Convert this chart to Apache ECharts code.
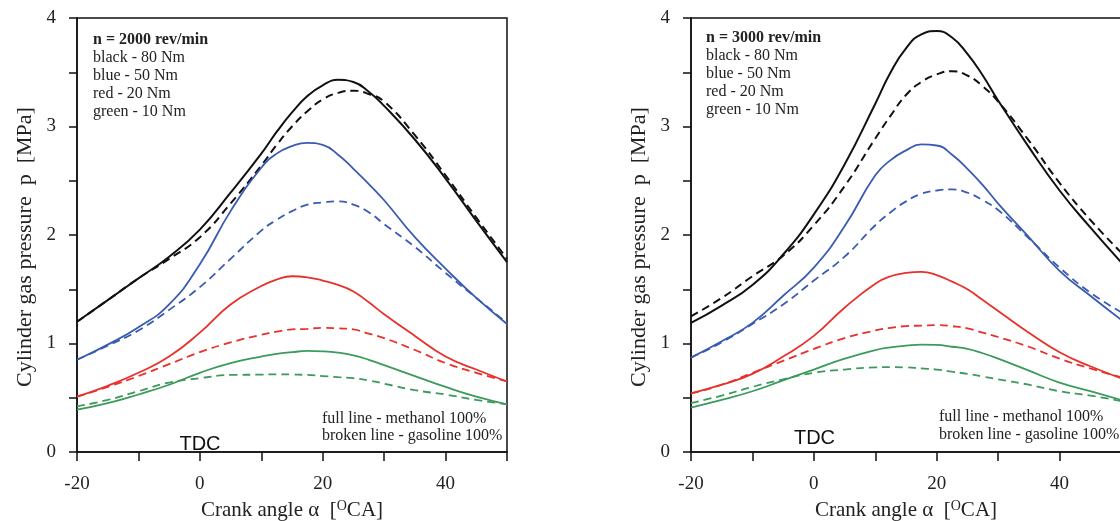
<!DOCTYPE html>
<html>
<head>
<meta charset="utf-8">
<script src="https://cdn.jsdelivr.net/npm/echarts@6/dist/echarts.min.js"></script>
<style>
html,body{margin:0;padding:0;background:#fff;}
#chart{width:1120px;height:521px;}
</style>
</head>
<body>
<div id="chart"></div>
<script>
// Crank angle samples [deg CA]
const angles = [-20,-15,-10,-5,0,5,10,12.5,15,17.5,20,22.5,25,27.5,30,35,40,45,50];

// n = 2000 rev/min  (M = methanol 100%, full line; G = gasoline 100%, broken line)
const black80_M_2000 = [1.20,1.40,1.60,1.80,2.05,2.39,2.75,2.95,3.13,3.28,3.38,3.43,3.41,3.32,3.19,2.88,2.52,2.13,1.75];
const black80_G_2000 = [1.20,1.40,1.60,1.78,1.98,2.29,2.64,2.83,3.00,3.14,3.25,3.31,3.33,3.30,3.23,2.92,2.55,2.16,1.78];
const blue50_M_2000  = [0.85,0.99,1.15,1.36,1.73,2.22,2.62,2.75,2.82,2.85,2.83,2.74,2.61,2.47,2.32,1.98,1.69,1.42,1.18];
const blue50_G_2000  = [0.85,0.98,1.12,1.31,1.52,1.78,2.04,2.14,2.22,2.28,2.30,2.31,2.28,2.21,2.10,1.89,1.65,1.42,1.19];
const red20_M_2000   = [0.51,0.61,0.73,0.88,1.10,1.36,1.53,1.59,1.62,1.61,1.58,1.54,1.48,1.38,1.27,1.07,0.88,0.76,0.65];
const red20_G_2000   = [0.51,0.60,0.70,0.81,0.92,1.01,1.08,1.11,1.13,1.135,1.145,1.14,1.13,1.09,1.05,0.94,0.82,0.73,0.65];
const green10_M_2000 = [0.39,0.45,0.53,0.62,0.73,0.82,0.88,0.905,0.92,0.932,0.928,0.915,0.89,0.85,0.80,0.70,0.60,0.51,0.44];
const green10_G_2000 = [0.42,0.48,0.56,0.64,0.68,0.71,0.713,0.716,0.714,0.71,0.70,0.69,0.68,0.66,0.63,0.57,0.53,0.48,0.44];

// n = 3000 rev/min
const black80_M_3000 = [1.19,1.35,1.54,1.82,2.19,2.65,3.21,3.50,3.72,3.85,3.88,3.82,3.67,3.47,3.24,2.81,2.41,2.07,1.75];
const black80_G_3000 = [1.25,1.42,1.62,1.81,2.09,2.45,2.89,3.10,3.29,3.41,3.48,3.51,3.47,3.37,3.23,2.87,2.48,2.14,1.84];
const blue50_M_3000  = [0.87,1.02,1.19,1.44,1.70,2.08,2.55,2.69,2.78,2.835,2.825,2.74,2.61,2.46,2.29,1.98,1.67,1.44,1.22];
const blue50_G_3000  = [0.87,1.01,1.18,1.36,1.58,1.80,2.09,2.21,2.31,2.38,2.41,2.42,2.39,2.32,2.23,1.97,1.70,1.47,1.29];
const red20_M_3000   = [0.54,0.62,0.72,0.88,1.07,1.33,1.55,1.62,1.65,1.66,1.63,1.57,1.50,1.40,1.30,1.10,0.92,0.79,0.68];
const red20_G_3000   = [0.54,0.62,0.73,0.84,0.95,1.05,1.12,1.145,1.16,1.165,1.17,1.16,1.14,1.10,1.06,0.97,0.86,0.77,0.69];
const green10_M_3000 = [0.41,0.48,0.56,0.66,0.76,0.86,0.94,0.965,0.98,0.99,0.988,0.97,0.95,0.91,0.86,0.75,0.64,0.56,0.48];
const green10_G_3000 = [0.45,0.52,0.60,0.67,0.73,0.76,0.78,0.782,0.78,0.77,0.76,0.74,0.72,0.695,0.67,0.62,0.56,0.52,0.47];

const xTickLabels = [-20, 0, 20, 40];
const yTickLabels = [0, 1, 2, 3, 4];

const COLORS = {black:'#111111', blue:'#3a5bb2', red:'#e8302c', green:'#3c9a5c'};
const SERIF = '"Liberation Serif", "Times New Roman", serif';
const SANS = '"Liberation Sans", Arial, sans-serif';

function pairs(vals){ return angles.map((a,i)=>[a, vals[i]]); }

function mkSeries(vals, color, dashed, idx, width){
  return {
    type:'line', xAxisIndex:idx, yAxisIndex:idx, data:pairs(vals),
    showSymbol:false, symbol:'none', smooth:0.5, silent:true,
    lineStyle:{color:color, width:width, type: dashed ? [8,5] : 'solid'}
  };
}

const panels = [
  {sets:[[black80_M_2000,black80_G_2000,'black'],[blue50_M_2000,blue50_G_2000,'blue'],[red20_M_2000,red20_G_2000,'red'],[green10_M_2000,green10_G_2000,'green']]},
  {sets:[[black80_M_3000,black80_G_3000,'black'],[blue50_M_3000,blue50_G_3000,'blue'],[red20_M_3000,red20_G_3000,'red'],[green10_M_3000,green10_G_3000,'green']]}
];

const series = [];
panels.forEach((p, idx)=>{
  p.sets.forEach(s=>{
    const w = s[2]==='black' ? 2 : 1.8;
    series.push(mkSeries(s[1], COLORS[s[2]], true, idx, w));
    series.push(mkSeries(s[0], COLORS[s[2]], false, idx, w));
  });
});

const axisLineStyle = {color:'#111', width:1.5};

function xAxis(idx){
  return {
    gridIndex:idx, type:'value', min:-20, max:50, interval:10,
    name:'Crank angle α  [{s|O}CA]', nameLocation:'middle', nameGap:42,
    nameTextStyle:{fontFamily:SERIF, fontSize:21, color:'#222',
      rich:{s:{fontFamily:SERIF, fontSize:14, color:'#222', padding:[0,0,9,0]}}},
    axisLine:{show:true, onZero:false, lineStyle:axisLineStyle},
    axisTick:{show:true, inside:false, length:9, lineStyle:axisLineStyle},
    axisLabel:{margin:23, fontFamily:SERIF, fontSize:19, color:'#222',
      formatter:v=> xTickLabels.includes(v) ? String(v) : ''},
    splitLine:{show:false}
  };
}
function yAxis(idx){
  return {
    gridIndex:idx, type:'value', min:0, max:4, interval:0.5,
    name:'Cylinder gas pressure  p  [MPa]', nameLocation:'middle', nameGap:41,
    nameTextStyle:{fontFamily:SERIF, fontSize:22, color:'#222', padding:[0,24,0,0]},
    axisLine:{show:true, onZero:false, lineStyle:axisLineStyle},
    axisTick:{show:true, inside:false, length:8, lineStyle:axisLineStyle},
    axisLabel:{margin:21, fontFamily:SERIF, fontSize:19, color:'#222',
      formatter:v=> yTickLabels.includes(v) ? String(v) : ''},
    splitLine:{show:false}
  };
}

function txt(x, y, text, opts){
  return {type:'text', x:x, y:y, silent:true, z:10,
    style:Object.assign({text:text, fill:'#222', font:'16px '+SERIF, align:'left', verticalAlign:'middle'}, opts||{})};
}

const graphic = [
  txt(93, 39.5, 'n = 2000 rev/min', {font:'bold 16px '+SERIF}),
  txt(93, 57.5, 'black - 80 Nm'),
  txt(93, 75.5, 'blue - 50 Nm'),
  txt(93, 93.5, 'red - 20 Nm'),
  txt(93, 111.5, 'green - 10 Nm'),
  txt(322, 418.5, 'full line - methanol 100%'),
  txt(322, 436, 'broken line - gasoline 100%'),
  txt(200, 444, 'TDC', {font:'20px '+SANS, align:'center', fill:'#111'}),

  txt(706, 38, 'n = 3000 rev/min', {font:'bold 16px '+SERIF}),
  txt(706, 56, 'black - 80 Nm'),
  txt(706, 74, 'blue - 50 Nm'),
  txt(706, 92, 'red - 20 Nm'),
  txt(706, 110, 'green - 10 Nm'),
  txt(939, 417, 'full line - methanol 100%'),
  txt(939, 434.5, 'broken line - gasoline 100%'),
  txt(814.5, 438, 'TDC', {font:'20px '+SANS, align:'center', fill:'#111'})
];

const chart = echarts.init(document.getElementById('chart'), null, {renderer:'canvas'});
chart.setOption({
  animation:false,
  backgroundColor:'#ffffff',
  grid:[
    {left:77, top:18, width:430, height:434, show:true, borderColor:'#111', borderWidth:1.5, backgroundColor:'transparent', containLabel:false, outerBoundsMode:'none'},
    {left:691, top:18, width:430, height:434, show:true, borderColor:'#111', borderWidth:1.5, backgroundColor:'transparent', containLabel:false, outerBoundsMode:'none'}
  ],
  xAxis:[xAxis(0), xAxis(1)],
  yAxis:[yAxis(0), yAxis(1)],
  series:series,
  graphic:graphic
});
</script>
</body>
</html>
